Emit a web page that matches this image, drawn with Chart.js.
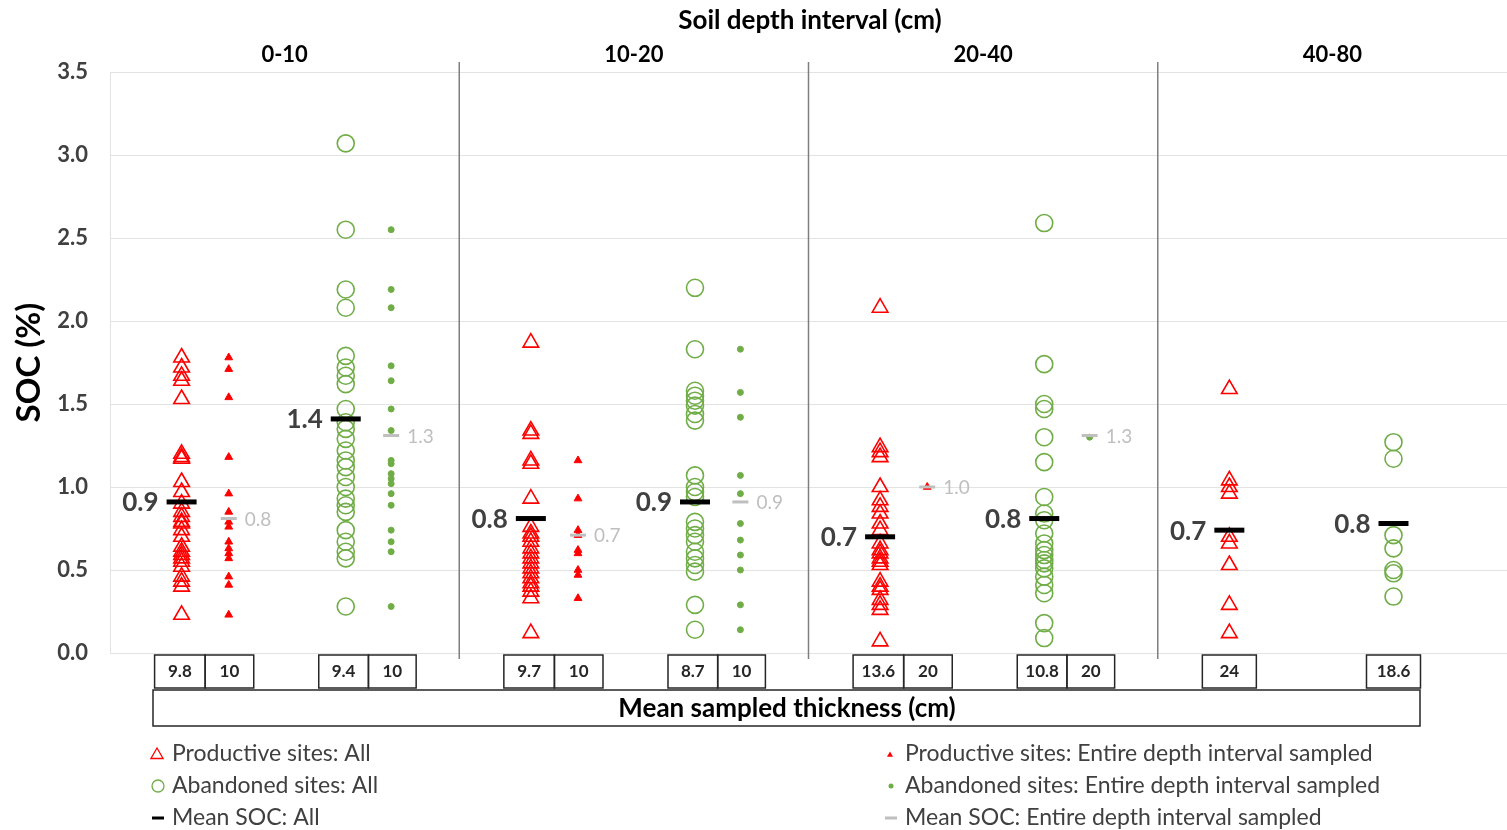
<!DOCTYPE html>
<html>
<head>
<meta charset="utf-8">
<script src="https://cdn.jsdelivr.net/npm/chart.js@4"></script>
<style>
  html, body { margin: 0; padding: 0; background: #fff; }
  #c { display: block; }
</style>
</head>
<body>
<canvas id="c" width="1507" height="830"></canvas>
<script>
// SOC by soil depth interval, productive vs abandoned sites.
const intervals = ['0-10', '10-20', '20-40', '40-80'];

const prodAll = [
  [1.78, 1.72, 1.67, 1.64, 1.53, 1.2, 1.18, 1.17, 1.03, 0.97, 0.9, 0.85, 0.82, 0.79, 0.78, 0.74, 0.7, 0.64, 0.61, 0.59, 0.57, 0.55, 0.52, 0.46, 0.43, 0.4, 0.23],
  [1.87, 1.34, 1.32, 1.16, 1.14, 0.93, 0.76, 0.72, 0.7, 0.67, 0.63, 0.6, 0.57, 0.54, 0.51, 0.48, 0.45, 0.42, 0.4, 0.37, 0.33, 0.12],
  [2.08, 1.24, 1.21, 1.18, 1.0, 0.92, 0.88, 0.84, 0.78, 0.74, 0.66, 0.62, 0.6, 0.57, 0.55, 0.53, 0.43, 0.4, 0.38, 0.32, 0.29, 0.26, 0.07],
  [1.59, 1.04, 1.0, 0.96, 0.7, 0.66, 0.53, 0.29, 0.12]
];
const prodEntire = [
  [1.78, 1.71, 1.54, 1.18, 0.96, 0.85, 0.79, 0.76, 0.67, 0.63, 0.6, 0.57, 0.46, 0.41, 0.23],
  [1.16, 0.93, 0.74, 0.71, 0.62, 0.6, 0.5, 0.47, 0.33],
  [1.0],
  []
];
const abanAll = [
  [3.07, 2.55, 2.19, 2.08, 1.79, 1.72, 1.67, 1.62, 1.47, 1.39, 1.35, 1.29, 1.22, 1.16, 1.12, 1.06, 1.0, 0.93, 0.89, 0.85, 0.74, 0.67, 0.61, 0.57, 0.28],
  [2.2, 1.83, 1.58, 1.55, 1.52, 1.49, 1.44, 1.4, 1.07, 1.0, 0.97, 0.94, 0.79, 0.75, 0.71, 0.67, 0.61, 0.57, 0.53, 0.49, 0.29, 0.14],
  [2.59, 1.74, 1.5, 1.47, 1.3, 1.15, 0.94, 0.84, 0.8, 0.72, 0.66, 0.62, 0.59, 0.56, 0.54, 0.51, 0.46, 0.41, 0.36, 0.18, 0.09],
  [1.27, 1.17, 0.71, 0.63, 0.5, 0.48, 0.34]
];
const abanEntire = [
  [2.55, 2.19, 2.08, 1.73, 1.64, 1.47, 1.34, 1.16, 1.14, 1.08, 1.05, 1.02, 0.96, 0.89, 0.74, 0.67, 0.61, 0.28],
  [1.83, 1.57, 1.42, 1.07, 0.96, 0.78, 0.68, 0.59, 0.5, 0.29, 0.14],
  [1.3],
  []
];

const meanProdAll = [0.91, 0.81, 0.7, 0.74];
const meanAbanAll = [1.41, 0.91, 0.81, 0.78];
const meanProdEntire = [0.81, 0.71, 1.0, null];
const meanAbanEntire = [1.31, 0.91, 1.31, null];

const thickProdAll = [9.8, 9.7, 13.6, 24];
const thickProdEntire = [10, 10, 20, null];
const thickAbanAll = [9.4, 8.7, 10.8, 18.6];
const thickAbanEntire = [10, 10, 20, null];

const yTicks = [0, 0.5, 1, 1.5, 2, 2.5, 3, 3.5];

// column offsets inside each depth panel
const OFF = { prodAll: 0.205, prodEntire: 0.34, abanAll: 0.675, abanEntire: 0.805 };
const FONT = 'Lato, "Open Sans", sans-serif';
const RED = '#ff0000', GREEN = '#70ad47', GREY = '#bfbfbf', DARK = '#404040';

const pts = (vals, off) => vals.flatMap((arr, i) => arr.map((v) => ({ x: i + off, y: v })));
const means = (vals, off) => vals.map((v, i) => (v == null ? null : { x: i + off, y: v })).filter(Boolean);

const datasets = [
  { label: 'Mean SOC: All', data: means(meanProdAll, OFF.prodAll).concat(means(meanAbanAll, OFF.abanAll)), pointStyle: 'line', pointRadius: 15, borderColor: '#000', pointBorderWidth: 5 },
  { label: 'Mean SOC: Entire depth interval sampled', data: means(meanProdEntire, OFF.prodEntire).concat(means(meanAbanEntire, OFF.abanEntire)), pointStyle: 'line', pointRadius: 8, borderColor: GREY, pointBorderWidth: 3 },
  { label: 'Productive sites: Entire depth interval sampled', data: pts(prodEntire, OFF.prodEntire), pointStyle: 'triangle', pointRadius: 4.5, borderColor: RED, backgroundColor: RED, pointBorderWidth: 1 },
  { label: 'Abandoned sites: Entire depth interval sampled', data: pts(abanEntire, OFF.abanEntire), pointStyle: 'circle', pointRadius: 3, borderColor: GREEN, backgroundColor: GREEN, pointBorderWidth: 1 },
  { label: 'Productive sites: All', data: pts(prodAll, OFF.prodAll), pointStyle: 'triangle', pointRadius: 9, borderColor: RED, backgroundColor: 'rgba(0,0,0,0)', pointBorderWidth: 1.6 },
  { label: 'Abandoned sites: All', data: pts(abanAll, OFF.abanAll), pointStyle: 'circle', pointRadius: 8.5, borderColor: GREEN, backgroundColor: 'rgba(0,0,0,0)', pointBorderWidth: 1.6 }
];

function text(ctx, s, x, y, font, color, align) {
  ctx.font = font; ctx.fillStyle = color; ctx.textAlign = align || 'center'; ctx.textBaseline = 'middle';
  ctx.fillText(s, x, y);
}
function box(ctx, x0, x1, y0, y1) {
  ctx.strokeStyle = '#262626'; ctx.lineWidth = 1.5;
  ctx.strokeRect(x0, y0, x1 - x0, y1 - y0);
}

const overlay = {
  id: 'overlay',
  afterDraw(chart) {
    const { ctx, scales: { x, y }, chartArea: ca } = chart;
    ctx.save();
    // panel dividers
    ctx.strokeStyle = '#7f7f7f'; ctx.lineWidth = 1.5;
    [1, 2, 3].forEach((v) => { const px = x.getPixelForValue(v); ctx.beginPath(); ctx.moveTo(px, 62); ctx.lineTo(px, ca.bottom + 6); ctx.stroke(); });
    text(ctx, 'Soil depth interval (cm)', 810, 21, `bold 26px ${FONT}`, '#000');
    intervals.forEach((lab, i) => text(ctx, lab, x.getPixelForValue(i + 0.5), 55, `bold 22px ${FONT}`, '#000'));
    // mean labels
    const bf = `bold 26px ${FONT}`, gf = `19px ${FONT}`;
    meanProdAll.forEach((v, i) => text(ctx, v.toFixed(1), x.getPixelForValue(i + OFF.prodAll) - 23, y.getPixelForValue(v) + 1, bf, DARK, 'right'));
    meanAbanAll.forEach((v, i) => text(ctx, v.toFixed(1), x.getPixelForValue(i + OFF.abanAll) - 23, y.getPixelForValue(v) + 1, bf, DARK, 'right'));
    meanProdEntire.forEach((v, i) => { if (v != null) text(ctx, v.toFixed(1), x.getPixelForValue(i + OFF.prodEntire) + 16, y.getPixelForValue(v) + 1, gf, GREY, 'left'); });
    meanAbanEntire.forEach((v, i) => { if (v != null) text(ctx, v.toFixed(1), x.getPixelForValue(i + OFF.abanEntire) + 16, y.getPixelForValue(v) + 1, gf, GREY, 'left'); });
    // thickness boxes
    const bt = ca.bottom + 2, bb = ca.bottom + 35, f = `bold 17px ${FONT}`;
    const pair = (a, b, oa, ob, i) => {
      const xa = x.getPixelForValue(i + oa), xb = x.getPixelForValue(i + ob);
      if (b == null) { box(ctx, xa - 27, xa + 27, bt, bb); text(ctx, String(a), xa, (bt + bb) / 2, f, '#262626'); return; }
      const mid = (xa + xb) / 2;
      box(ctx, xa - 27, mid, bt, bb); box(ctx, mid, xb + 25, bt, bb);
      text(ctx, String(a), (xa - 27 + mid) / 2, (bt + bb) / 2, f, '#262626');
      text(ctx, String(b), (mid + xb + 25) / 2, (bt + bb) / 2, f, '#262626');
    };
    intervals.forEach((_, i) => {
      pair(thickProdAll[i], thickProdEntire[i], OFF.prodAll, OFF.prodEntire, i);
      pair(thickAbanAll[i], thickAbanEntire[i], OFF.abanAll, OFF.abanEntire, i);
    });
    box(ctx, 153, 1420, 690, 726);
    text(ctx, 'Mean sampled thickness (cm)', 787, 709, `bold 26px ${FONT}`, '#000');
    // legend
    const lf = `23px ${FONT}`;
    const tri = (cx, cy, r, fill) => { ctx.beginPath(); ctx.moveTo(cx, cy - r); ctx.lineTo(cx + r * 0.87, cy + r * 0.5); ctx.lineTo(cx - r * 0.87, cy + r * 0.5); ctx.closePath(); if (fill) { ctx.fillStyle = RED; ctx.fill(); } else { ctx.strokeStyle = RED; ctx.lineWidth = 1.3; ctx.stroke(); } };
    const dash = (cx, cy, w, col) => { ctx.strokeStyle = col; ctx.lineWidth = 3; ctx.beginPath(); ctx.moveTo(cx - w / 2, cy); ctx.lineTo(cx + w / 2, cy); ctx.stroke(); };
    tri(157, 755, 7, false);
    ctx.strokeStyle = GREEN; ctx.lineWidth = 1.3; ctx.beginPath(); ctx.arc(158, 786, 6, 0, Math.PI * 2); ctx.stroke();
    dash(158, 818, 12, '#000');
    text(ctx, 'Productive sites: All', 172, 754, lf, DARK, 'left');
    text(ctx, 'Abandoned sites: All', 172, 786, lf, DARK, 'left');
    text(ctx, 'Mean SOC: All', 172, 818, lf, DARK, 'left');
    tri(890, 755, 3.5, true);
    ctx.fillStyle = GREEN; ctx.beginPath(); ctx.arc(891, 786, 2.5, 0, Math.PI * 2); ctx.fill();
    dash(891, 818, 12, GREY);
    text(ctx, 'Productive sites: Entire depth interval sampled', 905, 754, lf, DARK, 'left');
    text(ctx, 'Abandoned sites: Entire depth interval sampled', 905, 786, lf, DARK, 'left');
    text(ctx, 'Mean SOC: Entire depth interval sampled', 905, 818, lf, DARK, 'left');
    ctx.restore();
  }
};

new Chart(document.getElementById('c'), {
  type: 'scatter',
  data: { datasets },
  options: {
    responsive: false, animation: false, events: [],
    layout: { autoPadding: false, padding: { top: 72, bottom: 177, left: 0, right: 0 } },
    plugins: { legend: { display: false }, tooltip: { enabled: false } },
    scales: {
      x: { type: 'linear', min: 0, max: 4, display: false },
      y: {
        min: 0, max: 3.5,
        afterFit: (s) => { s.width = 110; },
        afterBuildTicks: (s) => { s.ticks = yTicks.map((v) => ({ value: v })); },
        ticks: { padding: 22, color: DARK, font: { family: FONT, size: 22, weight: 'bold' }, callback: (v) => v.toFixed(1) },
        grid: { color: '#e3e3e3', drawTicks: false },
        border: { color: '#e3e3e3' },
        title: { display: true, text: 'SOC (%)', color: '#000', font: { family: FONT, size: 33, weight: 'bold' }, padding: { top: 10, bottom: 0 } }
      }
    }
  },
  plugins: [overlay]
});
</script>
</body>
</html>
